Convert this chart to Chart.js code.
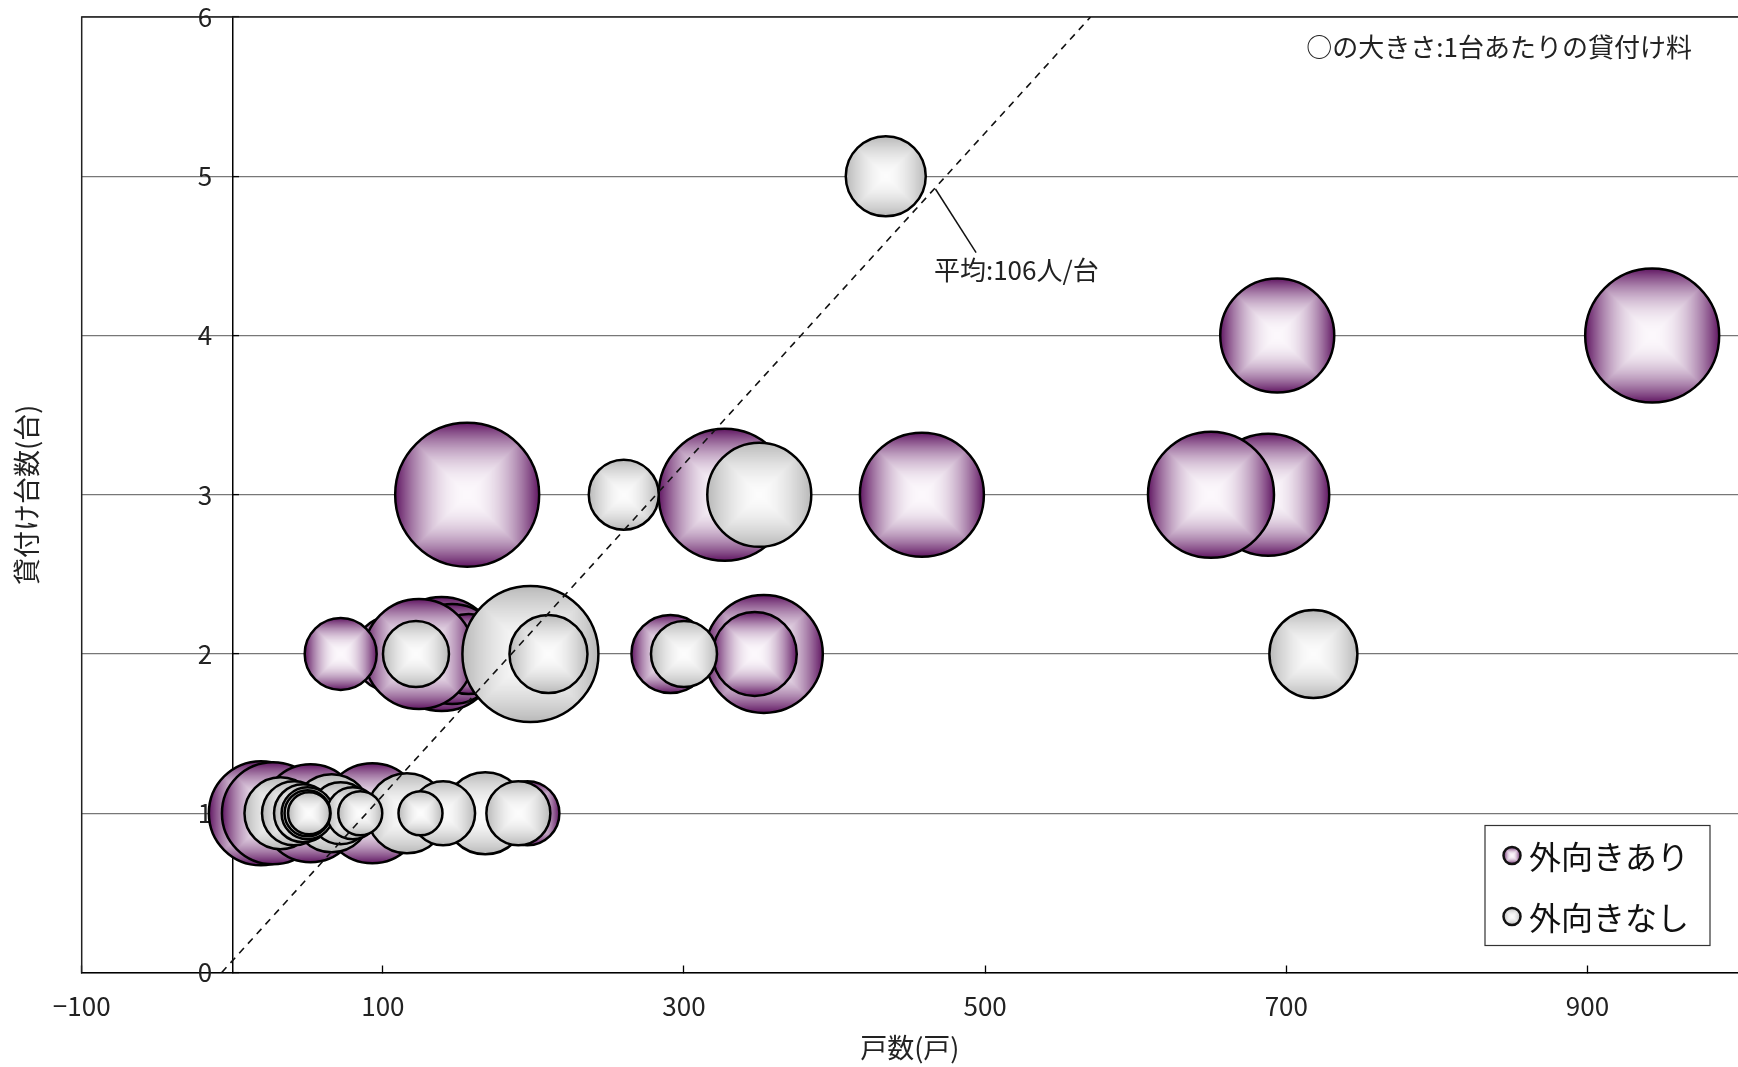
<!DOCTYPE html>
<html>
<head>
<meta charset="utf-8">
<script src="https://cdn.jsdelivr.net/npm/chart.js@4.4.1/dist/chart.umd.min.js"></script>
<style>
html,body{margin:0;padding:0;background:#fff;}
#wrap{width:1738px;height:1067px;position:relative;}
</style>
</head>
<body>
<div id="wrap"><canvas id="c"></canvas></div>
<script>
const FONT = '"Noto Sans CJK JP", "Noto Sans", sans-serif';

// ---- data ----
const seriesNames = ['外向きあり', '外向きなし'];
// 外向きあり : 戸数, 貸付け台数, 円の大きさ(1台あたりの貸付け料, 相対値)
const withX    = [943, 694, 688, 650, 458, 156, 327, 353, 347, 291, 105, 139, 146, 157, 124, 72, 19, 27, 52, 93, 196];
const withY    = [4,   4,   3,   3,   3,   3,   3,   2,   2,   2,   2,   2,   2,   2,   2,   2,  1,  1,  1,  1,  1];
const withSize = [67,  57,  61,  63,  62,  72,  66,  59,  42,  39,  37,  57,  50,  40,  55,  36, 52, 51, 49, 50, 32];
// 外向きなし
const withoutX    = [434, 260, 350, 198, 210, 122, 300, 718, 32, 66, 116, 168, 41, 47, 72, 140, 190, 50, 80, 85, 50, 125, 51];
const withoutY    = [5,   3,   3,   2,   2,   2,   2,   2,   1,  1,  1,   1,   1,  1,  1,  1,   1,   1,  1,  1,  1,  1,   1];
const withoutSize = [40,  35,  52,  68,  39,  33,  33,  44,  36, 39, 40,  41,  32, 29, 31, 32,  32,  26, 26, 22, 23, 22,  21];

const xTicks = [-100, 100, 300, 500, 700, 900];
const yTicks = [0, 1, 2, 3, 4, 5, 6];
const xRange = [-100, 1000];
const yRange = [0, 6];
// 平均線 (106人/台)
const avgLineX = [-7, 570];
const avgLineY = [0, 6];
const avgLabel = '平均:106人/台';
const avgLeaderX = [467, 494];
const avgLeaderY = [4.92, 4.52];
const avgLabelAt = {x: 466, y: 4.41};
const noteText = '○の大きさ:1台あたりの貸付け料';
const xTitle = '戸数(戸)';
const yTitle = '貸付け台数(台)';

// ---- gradient textures (rectangular "from centre" fill) ----
function makeTexture(center, edge, pow) {
  const N = 256;
  const cv = document.createElement('canvas');
  cv.width = cv.height = N;
  const g = cv.getContext('2d');
  const img = g.createImageData(N, N);
  for (let j = 0; j < N; j++) {
    for (let i = 0; i < N; i++) {
      const dx = Math.abs((i + 0.5) / N * 2 - 1);
      const dy = Math.abs((j + 0.5) / N * 2 - 1);
      const t = Math.min(1, Math.max(dx, dy));
      const f = Math.pow(t, pow);
      const k = (j * N + i) * 4;
      for (let c = 0; c < 3; c++) img.data[k + c] = Math.round(center[c] + (edge[c] - center[c]) * f);
      img.data[k + 3] = 255;
    }
  }
  g.putImageData(img, 0, 0);
  return cv;
}
const texPurple = makeTexture([252, 248, 252], [96, 22, 98], 2.1);
const texGray = makeTexture([252, 252, 252], [184, 184, 184], 1.7);

function patternAt(ctx2d, tex, cx, cy, r) {
  const p = ctx2d.createPattern(tex, 'no-repeat');
  p.setTransform(new DOMMatrix([2 * r / tex.width, 0, 0, 2 * r / tex.height, cx - r, cy - r]));
  return p;
}
function texFill(tex, fallback) {
  return (c) => {
    if (c.type !== 'data' || !c.raw) return fallback;
    const ch = c.chart;
    const xs = ch.scales.x, ys = ch.scales.y;
    if (!xs || !ys) return fallback;
    const cx = xs.getPixelForValue(c.raw.x);
    const cy = ys.getPixelForValue(c.raw.y);
    return patternAt(ch.ctx, tex, cx, cy, c.raw.r);
  };
}

function toPoints(xs, ys, ss) {
  return xs.map((x, i) => ({x: x, y: ys[i], r: ss[i]}));
}

// ---- plugins ----
// y labels sit left of the crossing axis (x = 0) with a gap
const yLabelGap = 20;
const yLabelShift = {
  id: 'yLabelShift',
  beforeDraw(chart) {
    const s = chart.scales.y;
    if (!s) return;
    const items = s.getLabelItems();
    items.forEach(it => {
      if (!it.__shifted) {
        it.options.translation[0] -= yLabelGap;
        it.__shifted = true;
      }
    });
  }
};

const framePlugin = {
  id: 'frame',
  beforeDatasetsDraw(chart) {
    const {ctx, chartArea: a} = chart;
    ctx.save();
    ctx.strokeStyle = '#222';
    ctx.lineWidth = 1.5;
    ctx.beginPath();
    ctx.moveTo(a.left, a.bottom);
    ctx.lineTo(a.left, a.top);
    ctx.lineTo(a.right, a.top);
    ctx.stroke();
    ctx.restore();
  }
};

const annotPlugin = {
  id: 'annot',
  afterDatasetsDraw(chart) {
    const {ctx, chartArea: a, scales: {x, y}} = chart;
    ctx.save();
    ctx.strokeStyle = '#111';
    ctx.lineWidth = 1.5;
    ctx.beginPath();
    ctx.moveTo(x.getPixelForValue(avgLeaderX[0]), y.getPixelForValue(avgLeaderY[0]));
    ctx.lineTo(x.getPixelForValue(avgLeaderX[1]), y.getPixelForValue(avgLeaderY[1]));
    ctx.stroke();
    ctx.fillStyle = '#222';
    ctx.font = '26px ' + FONT;
    ctx.textBaseline = 'middle';
    ctx.textAlign = 'left';
    ctx.fillText(avgLabel, x.getPixelForValue(avgLabelAt.x), y.getPixelForValue(avgLabelAt.y));
    ctx.textAlign = 'right';
    ctx.fillText(noteText, a.right - 46, a.top + 30);

    // legend box
    const bx = a.right - 253, by = a.bottom - 147, bw = 225, bh = 120;
    ctx.fillStyle = '#fff';
    ctx.fillRect(bx, by, bw, bh);
    ctx.strokeStyle = '#333';
    ctx.lineWidth = 1.2;
    ctx.strokeRect(bx, by, bw, bh);
    const texs = [texPurple, texGray];
    ctx.font = '32px ' + FONT;
    ctx.textAlign = 'left';
    for (let i = 0; i < seriesNames.length; i++) {
      const cy = by + 30 + i * 61;
      const cx = bx + 27;
      const r = 8.5;
      ctx.beginPath();
      ctx.arc(cx, cy, r, 0, Math.PI * 2);
      ctx.fillStyle = patternAt(ctx, texs[i], cx, cy, r);
      ctx.fill();
      ctx.lineWidth = 2.5;
      ctx.strokeStyle = '#111';
      ctx.stroke();
      ctx.fillStyle = '#111';
      ctx.fillText(seriesNames[i], bx + 44, cy + 1);
    }
    ctx.restore();
  }
};

new Chart(document.getElementById('c'), {
  data: {
    datasets: [
      {
        type: 'line',
        label: avgLabel,
        data: avgLineX.map((x, i) => ({x: x, y: avgLineY[i]})),
        borderColor: '#111',
        borderWidth: 1.6,
        borderDash: [7, 6],
        pointRadius: 0,
        fill: false,
        order: 0
      },
      {
        type: 'bubble',
        label: seriesNames[1],
        data: toPoints(withoutX, withoutY, withoutSize),
        backgroundColor: texFill(texGray, '#ddd'),
        borderColor: '#000',
        borderWidth: 2.5,
        order: 1
      },
      {
        type: 'bubble',
        label: seriesNames[0],
        data: toPoints(withX, withY, withSize),
        backgroundColor: texFill(texPurple, '#a070a0'),
        borderColor: '#000',
        borderWidth: 2.5,
        order: 2
      }
    ]
  },
  options: {
    responsive: true,
    maintainAspectRatio: false,
    animation: false,
    events: [],
    devicePixelRatio: 1,
    layout: {autoPadding: false, padding: {left: 0, right: -3, top: 17, bottom: 0}},
    plugins: {legend: {display: false}, tooltip: {enabled: false}},
    scales: {
      x: {
        type: 'linear',
        position: 'bottom',
        min: xRange[0],
        max: xRange[1],
        afterBuildTicks: (s) => { s.ticks = xTicks.map(v => ({value: v})); },
        ticks: {
          autoSkip: false,
          maxRotation: 0,
          padding: 25.4,
          color: '#222',
          font: {family: FONT, size: 26},
          callback: (v) => (v < 0 ? '−' + Math.abs(v) : String(v))
        },
        grid: {drawOnChartArea: false, drawTicks: true, tickLength: -7, tickColor: '#000', tickWidth: 1.3},
        border: {display: true, color: '#000', width: 1.5},
        title: {display: true, text: xTitle, color: '#222', font: {family: FONT, size: 27}, padding: {top: -15.7, bottom: 2.8}}
      },
      y: {
        type: 'linear',
        position: {x: 0},
        min: yRange[0],
        max: yRange[1],
        afterBuildTicks: (s) => { s.ticks = yTicks.map(v => ({value: v})); },
        ticks: {
          padding: 0,
          color: '#222',
          font: {family: FONT, size: 26}
        },
        grid: {color: '#777', lineWidth: 1.2, drawTicks: true, tickLength: -7, tickColor: '#000', tickWidth: 1.3},
        border: {display: true, color: '#000', width: 1.5}
      },
      yTitle: {
        type: 'linear',
        position: 'left',
        display: true,
        ticks: {display: false},
        grid: {display: false, drawTicks: false},
        border: {display: false},
        title: {display: true, text: yTitle, color: '#222', font: {family: FONT, size: 27}, padding: {top: 11, bottom: 38.3}}
      }
    }
  },
  plugins: [yLabelShift, framePlugin, annotPlugin]
});
</script>
</body>
</html>
